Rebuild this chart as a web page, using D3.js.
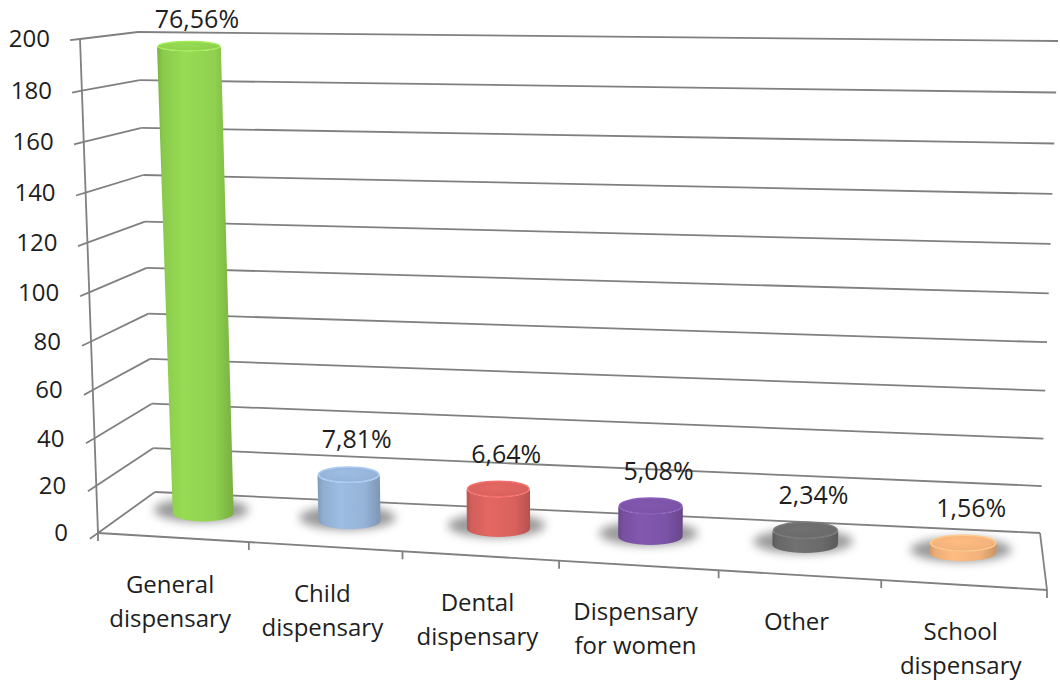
<!DOCTYPE html>
<html>
<head>
<meta charset="utf-8">
<script src="https://d3js.org/d3.v7.min.js"></script>
<style>
  body { margin: 0; background: #fff; }
  svg text { font-family: "Open Sans", sans-serif; fill: #1e1e1e; }
</style>
</head>
<body>
<script>
// data
var categories = [["General", "dispensary"], ["Child", "dispensary"], ["Dental", "dispensary"],
                  ["Dispensary", "for women"], ["Other"], ["School", "dispensary"]];
var counts = [196, 20, 17, 13, 6, 4];
var percents = ["76,56%", "7,81%", "6,64%", "5,08%", "2,34%", "1,56%"];
var yTicks = [0, 20, 40, 60, 80, 100, 120, 140, 160, 180, 200];
var colors = ["#8fd14f", "#95b3d7", "#d9625e", "#7b53a6", "#6b6b6b", "#f2b27b"];

var width = 1060, height = 680;

// corners of the 3D plot box on screen (front/back, bottom/top, left/right)
var box = {
  fbl: [98, 533], fbr: [1047, 590], bbl: [155, 492], bbr: [1040, 533],
  ftl: [80, 39],  ftr: [1066, 62],  btl: [138, 32], btr: [1058, 41]
};
function persp(t, c) { return t * c / (1 + (c - 1) * t); }
function lerp(a, b, t) { return [a[0] + (b[0] - a[0]) * t, a[1] + (b[1] - a[1]) * t]; }
// u: along categories 0..1, v: value 0..1, z: depth 0 (front) .. 1 (back)
function project(u, v, z) {
  var su = persp(u, 0.945), sv = persp(v, 0.95);
  var f = lerp(lerp(box.fbl, box.fbr, su), lerp(box.ftl, box.ftr, su), sv);
  var b = lerp(lerp(box.bbl, box.bbr, su), lerp(box.btl, box.btr, su), sv);
  return lerp(f, b, z);
}

var x = d3.scaleBand().domain(d3.range(categories.length)).range([0, 1]);
var y = d3.scaleLinear().domain([0, 200]).range([0, 1]);
var zc = 0.58;

var svg = d3.select("body").append("svg")
    .attr("width", width)
    .attr("height", height);
var defs = svg.append("defs");

defs.append("filter").attr("id", "shadow")
    .attr("x", "-50%").attr("y", "-100%").attr("width", "200%").attr("height", "300%")
  .append("feGaussianBlur").attr("stdDeviation", 5);

colors.forEach(function (c, i) {
  var base = d3.color(c);
  var g = defs.append("linearGradient").attr("id", "body" + i)
      .attr("x1", 0).attr("x2", 1).attr("y1", 0).attr("y2", 0);
  g.append("stop").attr("offset", "0%").attr("stop-color", base.darker(0.45));
  g.append("stop").attr("offset", "8%").attr("stop-color", base.darker(0.1));
  g.append("stop").attr("offset", "35%").attr("stop-color", base.brighter(0.15));
  g.append("stop").attr("offset", "75%").attr("stop-color", base);
  g.append("stop").attr("offset", "100%").attr("stop-color", base.darker(0.5));
  var t = defs.append("radialGradient").attr("id", "top" + i)
      .attr("cx", "45%").attr("cy", "40%").attr("r", "65%");
  t.append("stop").attr("offset", "0%").attr("stop-color", base.brighter(0.15));
  t.append("stop").attr("offset", "80%").attr("stop-color", base);
  t.append("stop").attr("offset", "100%").attr("stop-color", base.darker(0.25));
});

var line = d3.line();
var grid = svg.append("g")
    .attr("fill", "none")
    .attr("stroke", "#808080")
    .attr("stroke-width", 1.8);

// back wall and left wall gridlines
yTicks.forEach(function (t) {
  var v = y(t);
  grid.append("path").attr("d", line([project(0, v, 1), project(1, v, 1)]));
  grid.append("path").attr("d", line([project(0, v, 0), project(0, v, 1)]));
});
// floor front and right edges, value axis
grid.append("path").attr("d", line([project(0, 0, 0), project(1, 0, 0)]));
grid.append("path").attr("d", line([project(1, 0, 0), project(1, 0, 1)]));
grid.append("path").attr("d", line([project(0, 0, 0), project(0, 1, 0)]));

// value ticks and labels
yTicks.forEach(function (t) {
  var p0 = project(0, y(t), 0), pb = project(0, y(t), 1);
  var dx = pb[0] - p0[0], dy = pb[1] - p0[1], len = Math.sqrt(dx * dx + dy * dy);
  grid.append("path").attr("d", line([p0, [p0[0] - 10 * dx / len, p0[1] - 10 * dy / len]]));
  svg.append("text")
      .attr("x", p0[0] - 30)
      .attr("y", p0[1])
      .attr("dy", "0.35em")
      .attr("text-anchor", "end")
      .style("font-size", "24px")
      .text(t);
});

// category ticks
d3.range(categories.length + 1).forEach(function (i) {
  var p = project(i / categories.length, 0, 0);
  grid.append("path").attr("d", line([p, [p[0], p[1] + 8]]));
});

// category labels
categories.forEach(function (lines, i) {
  var p = project(x(i) + x.bandwidth() / 2, 0, 0);
  var txt = svg.append("text")
      .attr("text-anchor", "middle")
      .style("font-size", "24px");
  lines.forEach(function (s, k) {
    txt.append("tspan").attr("x", p[0] - 3).attr("y", p[1] + 55 + k * 34).text(s);
  });
});

// cylinders
counts.forEach(function (d, i) {
  var uc = x(i) + x.bandwidth() / 2;
  var v = y(d);
  var B = project(uc, 0, zc), T = project(uc, v, zc);
  var pl = project(x(i), 0, zc), pr = project(x(i) + x.bandwidth(), 0, zc);
  var rx = 0.21 * (pr[0] - pl[0]);
  var rxT = rx * (1 + 0.05 * v);
  var ryB = 8.5, ryT = 8.5 - 3.5 * persp(v, 0.95);

  svg.append("ellipse")
      .attr("cx", B[0] - 2).attr("cy", B[1] - 3)
      .attr("rx", rx + 17).attr("ry", 12)
      .attr("fill", "#6e6e6e").attr("opacity", 0.7)
      .attr("filter", "url(#shadow)");

  var body = "M" + (T[0] - rxT) + "," + T[1] +
      "L" + (B[0] - rx) + "," + B[1] +
      "A" + rx + "," + ryB + " 0 0 0 " + (B[0] + rx) + "," + B[1] +
      "L" + (T[0] + rxT) + "," + T[1] +
      "A" + rxT + "," + ryT + " 0 0 1 " + (T[0] - rxT) + "," + T[1] + "Z";
  svg.append("path").attr("d", body).attr("fill", "url(#body" + i + ")");
  svg.append("ellipse")
      .attr("cx", T[0]).attr("cy", T[1])
      .attr("rx", rxT - 1).attr("ry", ryT - 0.5)
      .attr("fill", "url(#top" + i + ")")
      .attr("stroke", d3.color(colors[i]).brighter(0.35))
      .attr("stroke-width", 1.5);

  svg.append("text")
      .attr("x", T[0] + 8)
      .attr("y", Math.max(T[1] - ryT - 18, 28))
      .attr("text-anchor", "middle")
      .style("font-size", "25px")
      .text(percents[i]);
});
</script>
</body>
</html>
